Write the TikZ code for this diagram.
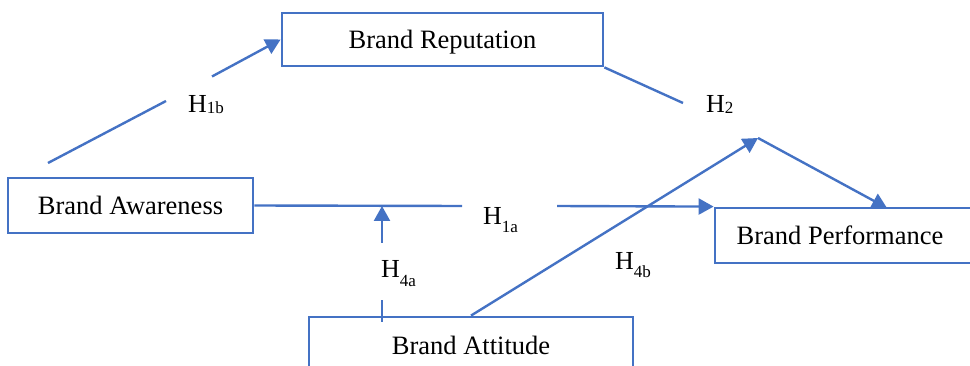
\documentclass[tikz,border=0pt]{standalone}
\usepackage{fontspec}
\setmainfont{Liberation Serif}
\usetikzlibrary{arrows.meta}
\definecolor{linkblue}{RGB}{68,114,196}
% hypothesis label: H with a smaller, lowered index
\newcommand\hyp[2]{H\raisebox{#2}{\fontsize{17}{17}\selectfont #1}}

\begin{document}
\begin{tikzpicture}[x=1pt,y=-1pt,
  construct/.style={draw=linkblue,line width=2.8pt,inner sep=0pt,text depth=0pt,
    font=\fontsize{26.5}{30}\selectfont},
  link/.style={draw=linkblue,line width=2.4pt},
  arrow/.style={link,-{Triangle[length=15pt,width=16pt]}},
  hlabel/.style={inner sep=0pt,anchor=base west,font=\fontsize{26}{30}\selectfont}]

\useasboundingbox (0,0) rectangle (970,366);

% constructs
\node[construct,minimum width=245pt,minimum height=55pt] (baw) at (130.5,205.5) {Brand Awareness};
\node[construct,minimum width=321pt,minimum height=53pt] (brep) at (442.5,39.5) {Brand Reputation};
\node[construct,minimum width=265pt,minimum height=55pt] (bperf) at (847.5,235.5) {Brand Performance\hspace*{15pt}};
\node[construct,minimum width=324pt,minimum height=56pt] (batt) at (471,345) {Brand Attitude};

% ends of the connector pieces around the labels
\coordinate (h1b-start) at (48,163);
\coordinate (h1b-gap1) at (166,101);
\coordinate (h1b-gap2) at (212,76.5);
\coordinate (h1a-gap1) at (462,206);
\coordinate (h1a-gap2) at (557,206);
\coordinate (h4a-start) at (382,322);
\coordinate (h4a-gap1) at (382,300);
\coordinate (h4a-gap2) at (382,243);
\coordinate (h4a-end) at (382,206);
\coordinate (h2-gap1) at (683,103);
\coordinate (join) at (758,138);
\coordinate (h2-end) at (887,208);

% H1b
\draw[link] (h1b-start) -- (h1b-gap1);
\draw[arrow] (h1b-gap2) -- (brep.west);
% H1a
\draw[link] (baw.east) -- (h1a-gap1);
\draw[arrow] (h1a-gap2) -- (bperf.north west);
% H4a
\draw[link] (h4a-start) -- (h4a-gap1);
\draw[arrow] (h4a-gap2) -- (h4a-end);
% H2
\draw[link] (brep.south east) -- (h2-gap1);
\draw[arrow] (join) -- (h2-end);
% H4b
\draw[arrow] (batt.north) -- (join);

% hypothesis labels
\node[hlabel] (l1b) at (188,113) {\hyp{1b}{-1pt}};
\node[hlabel] (l2) at (706,113) {\hyp{2}{-1pt}};
\node[hlabel] (l1a) at (483,225) {\hyp{1a}{-8pt}};
\node[hlabel] (l4a) at (381,278) {\hyp{4a}{-9pt}};
\node[hlabel] (l4b) at (615,270) {\hyp{4b}{-8pt}};
\end{tikzpicture}
\end{document}
